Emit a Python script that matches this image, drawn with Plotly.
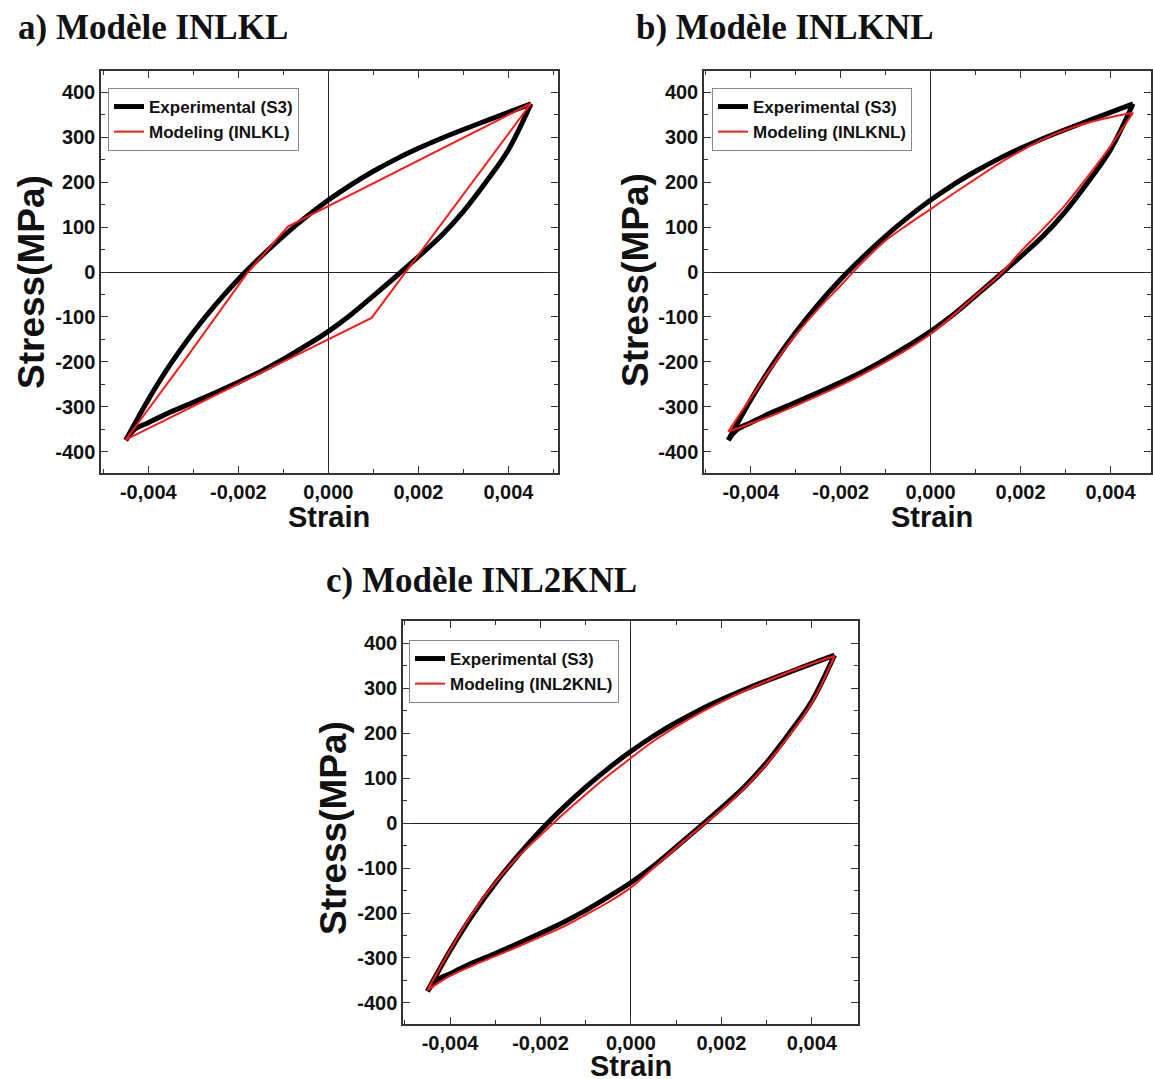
import plotly.graph_objects as go

# ---------------- data ----------------
# Experimental (S3) loop: loading branch (upper) and unloading branch (lower)
exp_up_x = [-0.0045, -0.0040, -0.0035, -0.0030, -0.0025, -0.0020, -0.0015, -0.0010, -0.0005, 0.0,
            0.0005, 0.0010, 0.0015, 0.0020, 0.0025, 0.0030, 0.0035, 0.0040, 0.0045]
exp_up_y = [-374, -284, -204, -134, -72, -16, 34, 80, 122, 160,
            194, 224, 251, 275, 297, 317, 336, 355, 374]
exp_dn_x = [0.0045, 0.0040, 0.0035, 0.0030, 0.0025, 0.0020, 0.0015, 0.0010, 0.0005, 0.0,
            -0.0005, -0.0010, -0.0015, -0.0020, -0.0025, -0.0030, -0.0035, -0.0040, -0.0043, -0.0045]
exp_dn_y = [374, 272, 200, 135, 80, 34, -10, -53, -95, -132,
            -164, -194, -221, -245, -268, -290, -311, -335, -350, -374]

# Modeling INLKL (piecewise linear)
inlkl_up_x = [-0.0045, -0.0031, -0.0018, -0.0009, 0.0045]
inlkl_up_y = [-373, -183, -2, 101, 375]
inlkl_dn_x = [0.0045, 0.00096, -0.0045]
inlkl_dn_y = [375, -102, -373]

# common strain grid for the nonlinear models
mod_up_x = [-0.0045, -0.0040, -0.0035, -0.0030, -0.0025, -0.0020, -0.0015, -0.0010, -0.0005, 0.0,
            0.0005, 0.0010, 0.0015, 0.0020, 0.0025, 0.0030, 0.0035, 0.0040, 0.0045]
mod_dn_x = [0.0045, 0.0040, 0.0035, 0.0030, 0.0025, 0.0020, 0.0015, 0.0010, 0.0005, 0.0,
            -0.0005, -0.0010, -0.0015, -0.0020, -0.0025, -0.0030, -0.0035, -0.0040, -0.0045]

# Modeling INLKNL
inlknl_up_y = [-355, -280, -207, -140, -82, -30, 23, 70, 106, 140,
               174, 207, 240, 269, 295, 316, 332, 344, 354]
inlknl_dn_y = [354, 280, 213, 150, 96, 45, -10, -52, -97, -138,
               -171, -200, -227, -252, -275, -297, -318, -337, -355]

# Modeling INL2KNL
inl2knl_up_y = [-372, -283, -200, -132, -75, -27, 20, 64, 106, 145,
                183, 215, 244, 270, 294, 316, 337, 355, 372]
inl2knl_dn_y = [372, 268, 195, 132, 77, 30, -12, -55, -99, -143,
                -176, -204, -231, -253, -275, -296, -317, -340, -372]

# tick labels
x_tick_vals = [-0.004, -0.002, 0.0, 0.002, 0.004]
x_tick_text = ["-0,004", "-0,002", "0,000", "0,002", "0,004"]
y_tick_vals = [-400, -300, -200, -100, 0, 100, 200, 300, 400]
y_tick_text = ["-400", "-300", "-200", "-100", "0", "100", "200", "300", "400"]

panel_titles = ["a) Modèle INLKL", "b) Modèle INLKNL", "c) Modèle INL2KNL"]
exp_name = "Experimental (S3)"
model_names = ["Modeling (INLKL)", "Modeling (INLKNL)", "Modeling (INL2KNL)"]
x_title = "Strain"
y_title = "Stress(MPa)"

# ---------------- figure ----------------
W, H = 1153, 1079
SANS = "Liberation Sans, Arial, sans-serif"
SERIF = "Liberation Serif, Times New Roman, serif"
RED = "#ff1a1a"


def xdom(l, r):
    return [l / W, r / W]


def ydom(t, b):
    return [1 - b / H, 1 - t / H]


models = [
    ((inlkl_up_x, inlkl_up_y), (inlkl_dn_x, inlkl_dn_y), "linear"),
    ((mod_up_x, inlknl_up_y), (mod_dn_x, inlknl_dn_y), "spline"),
    ((mod_up_x, inl2knl_up_y), (mod_dn_x, inl2knl_dn_y), "spline"),
]

fig = go.Figure()
legends = ["legend", "legend2", "legend3"]
for i in range(3):
    xa = "x" if i == 0 else f"x{i+1}"
    ya = "y" if i == 0 else f"y{i+1}"
    # experimental
    for k, (bx, by) in enumerate([(exp_up_x, exp_up_y), (exp_dn_x, exp_dn_y)]):
        fig.add_trace(go.Scatter(x=bx, y=by, mode="lines", name=exp_name,
                                 line=dict(color="black", width=5, shape="spline", smoothing=1.0),
                                 xaxis=xa, yaxis=ya, legend=legends[i],
                                 legendgroup=f"exp{i}", showlegend=(k == 0), legendrank=1))
    up, dn, shape = models[i]
    for k, (bx, by) in enumerate([up, dn]):
        line = dict(color=RED, width=2, shape=shape)
        if shape == "spline":
            line["smoothing"] = 1.0
        fig.add_trace(go.Scatter(x=bx, y=by, mode="lines", name=model_names[i],
                                 line=line, xaxis=xa, yaxis=ya, legend=legends[i],
                                 legendgroup=f"mod{i}", showlegend=(k == 0), legendrank=2))

panels = [
    dict(xd=xdom(101, 558), yd=ydom(71, 473), xr=[-0.00505, 0.0051], yr=[-447, 447]),
    dict(xd=xdom(704, 1151), yd=ydom(71, 473), xr=[-0.00504, 0.0049], yr=[-447, 447]),
    dict(xd=xdom(403, 858), yd=ydom(621, 1024), xr=[-0.00504, 0.00502], yr=[-447, 450]),
]

axis_common = dict(showgrid=False, showline=True, linecolor="#333", linewidth=1.5, mirror="allticks",
                   ticks="inside", ticklen=7, tickwidth=1.3, tickcolor="#333",
                   zeroline=True, zerolinecolor="#222", zerolinewidth=1.2,
                   tickfont=dict(family=SANS, size=20, color="#111", weight="bold"),
                   tickmode="array", fixedrange=True)

layout_axes = {}
for i, p in enumerate(panels):
    sx = "" if i == 0 else str(i + 1)
    xa = dict(axis_common, domain=p["xd"], range=p["xr"], anchor="y" + sx,
              tickvals=x_tick_vals, ticktext=x_tick_text,
              minor=dict(ticks="inside", ticklen=4, tickwidth=1, tickcolor="#333",
                         tickmode="linear", tick0=0, dtick=0.001))
    ya = dict(axis_common, domain=p["yd"], range=p["yr"], anchor="x" + sx,
              tickvals=y_tick_vals, ticktext=y_tick_text,
              minor=dict(ticks="inside", ticklen=4, tickwidth=1, tickcolor="#333",
                         tickmode="linear", tick0=0, dtick=50))
    layout_axes["xaxis" + sx] = xa
    layout_axes["yaxis" + sx] = ya

legend_pos = [(108, 88), (712, 88), (409, 640)]
legend_layout = {}
for i, (lx, ly) in enumerate(legend_pos):
    legend_layout[legends[i]] = dict(x=lx / W, y=1 - ly / H, xanchor="left", yanchor="top",
                                     bgcolor="rgba(255,255,255,0)", bordercolor="#888", borderwidth=1,
                                     font=dict(family=SANS, size=17, color="#111", weight="bold"),
                                     tracegroupgap=0, itemwidth=30, traceorder="normal")

annotations = []
title_pos = [(16, 28), (634, 28), (324, 580)]
for t, (tx, ty) in zip(panel_titles, title_pos):
    annotations.append(dict(text=t, x=tx / W, y=1 - ty / H, xref="paper", yref="paper",
                            xanchor="left", yanchor="middle", showarrow=False,
                            font=dict(family=SERIF, size=35, color="#111", weight="bold")))
strain_pos = [(329, 517), (932, 517), (631, 1066)]
for sx_, sy_ in strain_pos:
    annotations.append(dict(text=x_title, x=sx_ / W, y=1 - sy_ / H, xref="paper", yref="paper",
                            xanchor="center", yanchor="middle", showarrow=False,
                            font=dict(family=SANS, size=29, color="#111", weight="bold")))
stress_pos = [(32, 282), (636, 280), (333, 828)]
for px_, py_ in stress_pos:
    annotations.append(dict(text=y_title, x=px_ / W, y=1 - py_ / H, xref="paper", yref="paper",
                            xanchor="center", yanchor="middle", showarrow=False, textangle=-90,
                            font=dict(family=SANS, size=37, color="#111", weight="bold")))

fig.update_layout(width=W, height=H, margin=dict(l=0, r=0, t=0, b=0),
                  paper_bgcolor="white", plot_bgcolor="white", showlegend=True,
                  annotations=annotations, **layout_axes, **legend_layout)

fig.write_html("out.html", config={"displayModeBar": False},
               post_script="document.body.style.margin='0px';document.body.style.overflow='hidden';")
